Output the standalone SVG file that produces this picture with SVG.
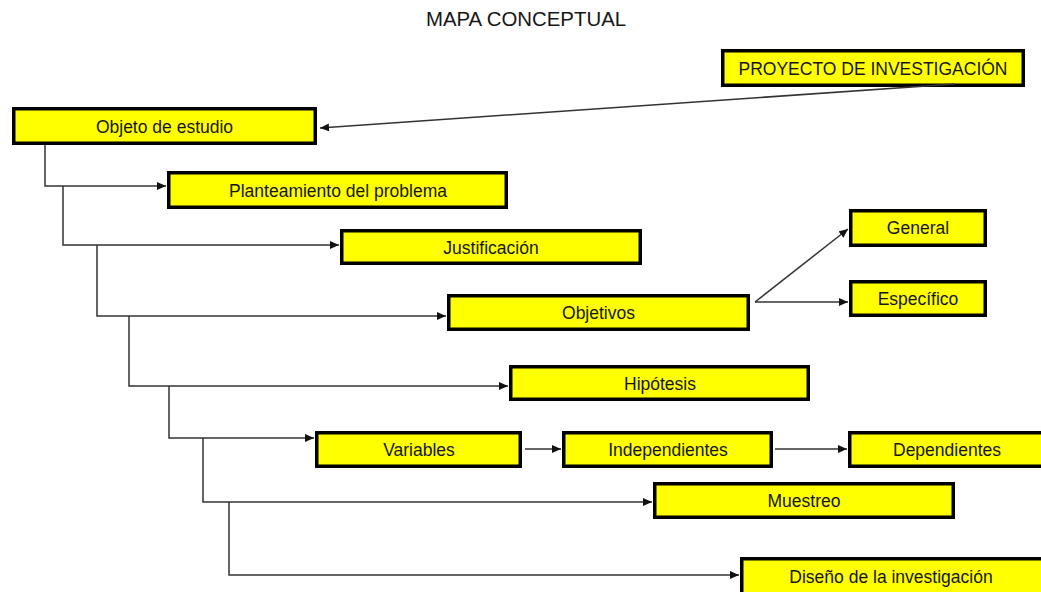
<svg xmlns="http://www.w3.org/2000/svg" width="1041" height="592" viewBox="0 0 1041 592">
<defs>
<marker id="arr" markerUnits="userSpaceOnUse" markerWidth="10" markerHeight="9" refX="9" refY="4" orient="auto">
<path d="M0,0 L9,4 L0,8 z" fill="#111"/>
</marker>
<style>
.box{fill:#ffff00;stroke:#000;stroke-width:3.5}
.lbl{font-family:"Liberation Sans",Arial,sans-serif;font-size:17.5px;fill:#161616;text-anchor:middle;dominant-baseline:central}
.con{fill:none;stroke:#333;stroke-width:1.5}
</style>
</defs>
<rect width="1041" height="592" fill="#fff"/>
<text x="526" y="18.5" class="lbl" style="font-size:20.4px">MAPA CONCEPTUAL</text>
<g id="n-proyecto"><rect class="box" x="722.75" y="50.75" width="300.5" height="34.5"/><text class="lbl" x="873" y="69">PROYECTO DE INVESTIGACIÓN</text></g>
<g id="n-objeto"><rect class="box" x="13.75" y="108.75" width="301.5" height="34.5"/><text class="lbl" x="164.5" y="127">Objeto de estudio</text></g>
<g id="n-planteamiento"><rect class="box" x="168.75" y="172.75" width="337.5" height="34.5"/><text class="lbl" x="338" y="191">Planteamiento del problema</text></g>
<g id="n-justificacion"><rect class="box" x="341.75" y="230.75" width="298.5" height="32.5"/><text class="lbl" x="491" y="248">Justificación</text></g>
<g id="n-objetivos"><rect class="box" x="448.75" y="295.75" width="299.5" height="33.5"/><text class="lbl" x="598.5" y="313">Objetivos</text></g>
<g id="n-general"><rect class="box" x="850.75" y="210.75" width="134.5" height="34.5"/><text class="lbl" x="918" y="228">General</text></g>
<g id="n-especifico"><rect class="box" x="850.75" y="281.75" width="134.5" height="33.5"/><text class="lbl" x="918" y="299">Específico</text></g>
<g id="n-hipotesis"><rect class="box" x="510.75" y="366.75" width="297.5" height="32.5"/><text class="lbl" x="660" y="384">Hipótesis</text></g>
<g id="n-variables"><rect class="box" x="316.75" y="432.75" width="203.5" height="33.5"/><text class="lbl" x="419" y="450">Variables</text></g>
<g id="n-independientes"><rect class="box" x="563.75" y="432.75" width="207.5" height="33.5"/><text class="lbl" x="668" y="450">Independientes</text></g>
<g id="n-dependientes"><rect class="box" x="849.75" y="432.75" width="194" height="33.5"/><text class="lbl" x="947" y="450">Dependientes</text></g>
<g id="n-muestreo"><rect class="box" x="654.75" y="483.75" width="298.5" height="33.5"/><text class="lbl" x="804" y="501">Muestreo</text></g>
<g id="n-diseno"><rect class="box" x="741.75" y="558.75" width="304" height="40"/><text class="lbl" x="891" y="577">Diseño de la investigación</text></g>
<g id="connectors">
<line class="con" x1="955" y1="84" x2="320" y2="128" marker-end="url(#arr)"/>
<path class="con" d="M45,145 V186 H166" marker-end="url(#arr)"/>
<path class="con" d="M63,186 V245 H339" marker-end="url(#arr)"/>
<path class="con" d="M97,245 V316 H446" marker-end="url(#arr)"/>
<path class="con" d="M129,316 V386 H508" marker-end="url(#arr)"/>
<path class="con" d="M169,386 V438 H314" marker-end="url(#arr)"/>
<path class="con" d="M203,438 V502 H652" marker-end="url(#arr)"/>
<path class="con" d="M229,502 V575 H739" marker-end="url(#arr)"/>
<line class="con" x1="755" y1="302" x2="848" y2="229" marker-end="url(#arr)"/>
<line class="con" x1="755" y1="302" x2="848" y2="302" marker-end="url(#arr)"/>
<line class="con" x1="525" y1="449" x2="561" y2="449" marker-end="url(#arr)"/>
<line class="con" x1="775" y1="449" x2="847" y2="449" marker-end="url(#arr)"/>
</g>
</svg>
